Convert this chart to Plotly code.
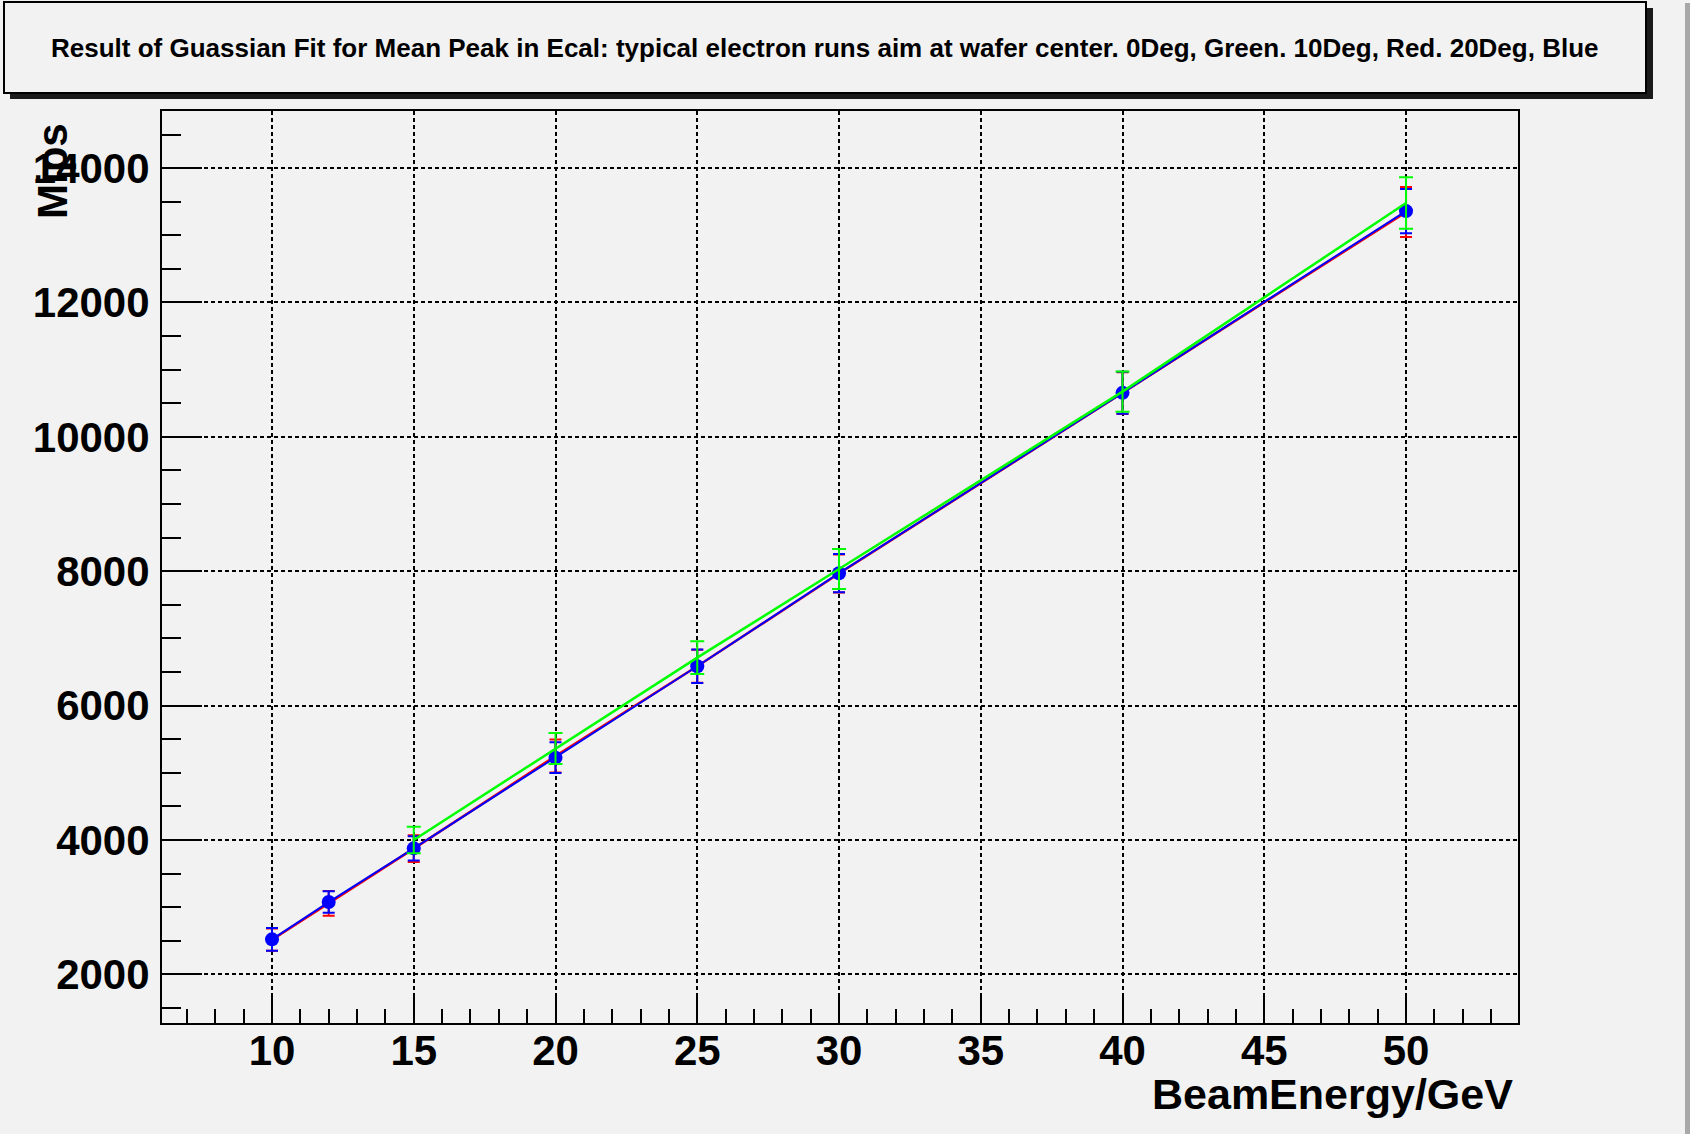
import plotly.graph_objects as go

# ---------------- data ----------------
energy_all = [10, 12, 15, 20, 25, 30, 40, 50]
energy_green = [15, 20, 25, 30, 40, 50]

mips_red = [2515, 3055, 3870, 5250, 6585, 7965, 10650, 13345]
err_red = [165, 185, 200, 245, 245, 282, 310, 372]

mips_blue = [2520, 3075, 3875, 5225, 6585, 7970, 10655, 13360]
err_blue = [170, 160, 181, 228, 249, 285, 313, 330]

mips_green = [4000, 5360, 6713, 8033, 10673, 13480]
err_green = [198, 231, 243, 298, 298, 384]

x_tick_vals = [10, 15, 20, 25, 30, 35, 40, 45, 50]
y_tick_vals = [2000, 4000, 6000, 8000, 10000, 12000, 14000]

title_text = ("Result of Guassian Fit for Mean Peak in Ecal: typical electron runs aim at "
              "wafer center. 0Deg, Green. 10Deg, Red. 20Deg, Blue")

# ---------------- layout geometry (pixels) ----------------
W, H = 1690, 1134
PL, PR, PT, PB = 162, 1518, 111, 1023
BG = "#f2f2f2"
FONT = "Liberation Sans, Arial, Helvetica, sans-serif"


def px(xp):
    return (xp - PL) / (PR - PL)


def py(yp):
    return (PB - yp) / (PB - PT)


fig = go.Figure()


def add_series(x, y, err, color, lw, cap, show_markers):
    fig.add_trace(go.Scatter(
        x=x, y=y, mode="lines",
        line=dict(color=color, width=lw),
        hoverinfo="skip", showlegend=False))
    fig.add_trace(go.Scatter(
        x=x, y=y, mode="markers",
        marker=dict(color="#0000ff", size=14 if show_markers else 1,
                    symbol="circle", opacity=1 if show_markers else 0),
        error_y=dict(type="data", array=err, visible=True,
                     color=color, thickness=2, width=cap),
        showlegend=False))


add_series(energy_all, mips_red, err_red, "#ff0000", 2.5, 6, False)
add_series(energy_all, mips_blue, err_blue, "#0000ff", 2, 6, True)
add_series(energy_green, mips_green, err_green, "#00ff00", 2.5, 7, False)

axis_common = dict(
    showline=True, linecolor="black", linewidth=2, mirror=True,
    showgrid=True, gridcolor="black", griddash="4px,3px", gridwidth=1.5,
    zeroline=False, ticks="inside", tickcolor="black", tickwidth=1.5,
    tickfont=dict(family=FONT, size=42, color="black", weight="bold"),
)

fig.update_xaxes(
    **axis_common,
    range=[6.12, 53.95],
    tickmode="array", tickvals=x_tick_vals,
    ticktext=[str(v) for v in x_tick_vals],
    ticklen=28, ticklabelstandoff=-10,
    minor=dict(dtick=1, tick0=0, ticklen=14, tickcolor="black",
               tickwidth=1.5, ticks="inside", showgrid=False),
)
fig.update_yaxes(
    **axis_common,
    range=[1275, 14850],
    tickmode="array", tickvals=y_tick_vals,
    ticktext=[str(v) for v in y_tick_vals],
    ticklen=40, ticklabelstandoff=2,
    minor=dict(dtick=500, tick0=0, ticklen=19, tickcolor="black",
               tickwidth=1.5, ticks="inside", showgrid=False),
)

shapes = [
    # title box shadow
    dict(type="rect", xref="paper", yref="paper",
         x0=px(10), x1=px(1653), y0=py(8), y1=py(99),
         fillcolor="#1a1a1a", line=dict(width=0), layer="above"),
    # title box
    dict(type="rect", xref="paper", yref="paper",
         x0=px(4), x1=px(1646), y0=py(2), y1=py(93),
         fillcolor=BG, line=dict(color="black", width=2), layer="above"),
    # right window edge
    dict(type="rect", xref="paper", yref="paper",
         x0=px(1685), x1=px(1690), y0=py(3), y1=py(1134),
         fillcolor="#a8a8a8", line=dict(width=0), layer="above"),
]

annotations = [
    dict(text=title_text, xref="paper", yref="paper",
         x=px(825), y=py(48), xanchor="center", yanchor="middle",
         showarrow=False,
         font=dict(family=FONT, size=26, color="black", weight="bold")),
    dict(text="Mips", xref="paper", yref="paper",
         x=px(52), y=py(171), xanchor="center", yanchor="middle",
         textangle=-90, showarrow=False,
         font=dict(family=FONT, size=42, color="black", weight="bold")),
    dict(text="BeamEnergy/GeV", xref="paper", yref="paper",
         x=px(1514), y=py(1094), xanchor="right", yanchor="middle",
         showarrow=False, borderpad=0,
         font=dict(family=FONT, size=43, color="black", weight="bold")),
]

fig.update_layout(
    width=W, height=H,
    margin=dict(l=PL, r=W - PR, t=PT, b=H - PB, autoexpand=False),
    paper_bgcolor=BG, plot_bgcolor=BG,
    shapes=shapes, annotations=annotations,
    showlegend=False,
)

fig.write_html("out.html", config={"displayModeBar": False})
